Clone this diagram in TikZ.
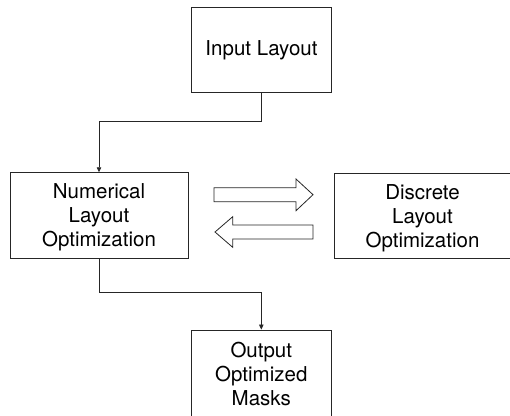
\documentclass[tikz,border=0pt]{standalone}
\usepackage{fontspec}
\setmainfont{TeX Gyre Heros}
\usetikzlibrary{arrows.meta}
\begin{document}
\begin{tikzpicture}[x=1pt,y=-1pt,
  box/.style={draw=black!85, line width=0.9pt, fill=white, align=center,
    font=\fontsize{20.5}{24}\selectfont, inner sep=0pt},
  link/.style={draw=black!85, line width=0.8pt, -{Triangle[length=5pt,width=4.5pt]}},
  blockarrow/.style={draw=black!85, line width=0.8pt, fill=white, line join=miter}]
  \useasboundingbox (0,0) rectangle (510,415);
  \clip (0,0) rectangle (510,415);

  % process boxes
  \node[box, minimum width=140pt, minimum height=85.4pt] (in)  at (261.5,50)    {Input Layout};
  \node[box, minimum width=178pt, minimum height=85.6pt, text depth=0pt] (num) at (99,215.5)   {Numerical\\Layout\\Optimization};
  \node[box, minimum width=177pt, minimum height=85pt, text depth=0pt]   (dis) at (422.5,215.8) {Discrete\\Layout\\Optimization};
  \node[box, minimum width=139.3pt, minimum height=87pt] (out) at (261.3,373.5) {Output\\Optimized\\Masks};

  % elbow connectors
  \draw[link] (in.south) -- ++(0,28.3) -| (num.north);
  \draw[link] (num.south) -- ++(0,34) -| (out.north);

  % hollow block arrows between the two optimizers
  \draw[blockarrow] (214,187.7) -- (296,187.7) -- (296,179) -- (313,194.7)
    -- (296,210.7) -- (296,201.7) -- (214,201.7) -- cycle;
  \draw[blockarrow] (313,225) -- (232.7,225) -- (232.7,216.7) -- (215,232)
    -- (232.7,247.3) -- (232.7,239) -- (313,239) -- cycle;
\end{tikzpicture}
\end{document}
